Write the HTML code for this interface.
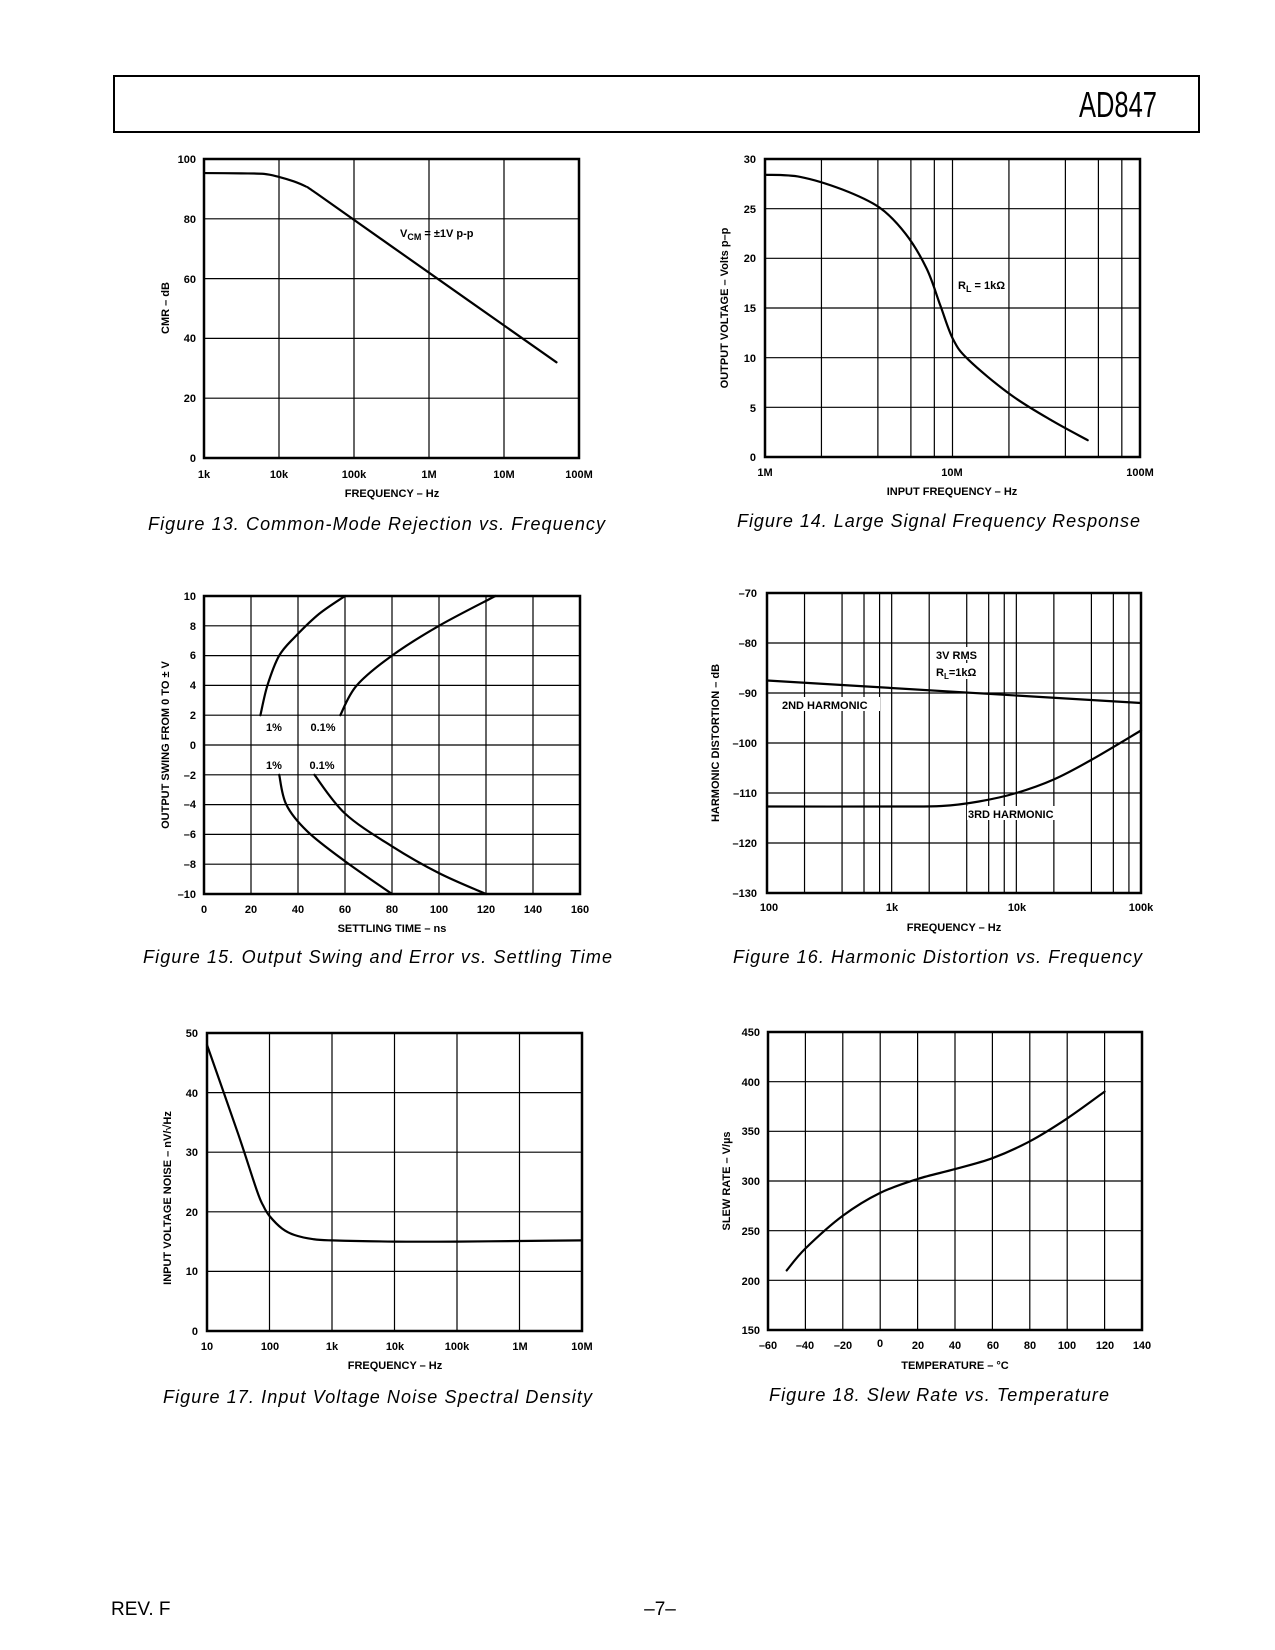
<!DOCTYPE html>
<html><head><meta charset="utf-8"><style>
html,body{margin:0;padding:0;background:#fff}
svg{display:block}
.t{font-family:"Liberation Sans",sans-serif;font-weight:bold;font-size:11px;fill:#000}
.c{font-family:"Liberation Sans",sans-serif;font-style:italic;font-size:18px;fill:#000}
</style></head><body>
<svg id="s" width="1275" height="1650" viewBox="0 0 1275 1650" xmlns="http://www.w3.org/2000/svg">
<rect x="0" y="0" width="1275" height="1650" fill="#fff"/>
<rect x="114" y="76" width="1085" height="56" fill="none" stroke="#000" stroke-width="2"/>
<text x="1079" y="117" font-family="Liberation Sans Narrow,Liberation Sans,sans-serif" font-size="36" textLength="78" lengthAdjust="spacingAndGlyphs">AD847</text>
<g id="grids"></g>
<g id="curves" fill="none" stroke="#000" stroke-width="2.2" stroke-linejoin="round" stroke-linecap="round"></g>

<!-- Fig13 -->
<g class="t" text-anchor="middle">
<text x="204" y="478">1k</text><text x="279" y="478">10k</text><text x="354" y="478">100k</text><text x="429" y="478">1M</text><text x="504" y="478">10M</text><text x="579" y="478">100M</text>
<text x="392" y="497">FREQUENCY – Hz</text>
</g>
<g class="t" text-anchor="end">
<text x="196" y="462">0</text><text x="196" y="402">20</text><text x="196" y="342">40</text><text x="196" y="283">60</text><text x="196" y="223">80</text><text x="196" y="163">100</text>
</g>
<text class="t" transform="translate(169,308) rotate(-90)" text-anchor="middle">CMR – dB</text>
<text class="t" x="400" y="237" font-size="12">V<tspan font-size="9" dy="3">CM</tspan><tspan dy="-3"> = ±1V p-p</tspan></text>
<text class="c" x="148" y="530" textLength="457" lengthAdjust="spacing">Figure 13.  Common-Mode Rejection vs. Frequency</text>

<!-- Fig14 -->
<g class="t" text-anchor="middle">
<text x="765" y="476">1M</text><text x="952" y="476">10M</text><text x="1140" y="476">100M</text>
<text x="952" y="495">INPUT FREQUENCY – Hz</text>
</g>
<g class="t" text-anchor="end">
<text x="756" y="461">0</text><text x="756" y="412">5</text><text x="756" y="362">10</text><text x="756" y="312">15</text><text x="756" y="262">20</text><text x="756" y="213">25</text><text x="756" y="163">30</text>
</g>
<text class="t" transform="translate(728,308) rotate(-90)" text-anchor="middle">OUTPUT VOLTAGE – Volts p–p</text>
<text class="t" x="958" y="289" font-size="12">R<tspan font-size="9" dy="3">L</tspan><tspan dy="-3"> = 1kΩ</tspan></text>
<text class="c" x="737" y="527" textLength="403" lengthAdjust="spacing">Figure 14.  Large Signal Frequency Response</text>

<!-- Fig15 -->
<g class="t" text-anchor="middle">
<text x="204" y="913">0</text><text x="251" y="913">20</text><text x="298" y="913">40</text><text x="345" y="913">60</text><text x="392" y="913">80</text><text x="439" y="913">100</text><text x="486" y="913">120</text><text x="533" y="913">140</text><text x="580" y="913">160</text>
<text x="392" y="932">SETTLING TIME – ns</text>
</g>
<g class="t" text-anchor="end">
<text x="196" y="898">–10</text><text x="196" y="868">–8</text><text x="196" y="838">–6</text><text x="196" y="808">–4</text><text x="196" y="779">–2</text><text x="196" y="749">0</text><text x="196" y="719">2</text><text x="196" y="689">4</text><text x="196" y="659">6</text><text x="196" y="630">8</text><text x="196" y="600">10</text>
</g>
<text class="t" transform="translate(169,745) rotate(-90)" text-anchor="middle">OUTPUT SWING FROM 0 TO ± V</text>
<g class="t" text-anchor="middle">
<rect x="262" y="719" width="22" height="14" fill="#fff"/><text x="274" y="731">1%</text>
<rect x="307" y="719" width="32" height="14" fill="#fff"/><text x="323" y="731">0.1%</text>
<rect x="262" y="758" width="22" height="14" fill="#fff"/><text x="274" y="769">1%</text>
<rect x="306" y="758" width="32" height="14" fill="#fff"/><text x="322" y="769">0.1%</text>
</g>
<text class="c" x="143" y="963" textLength="469" lengthAdjust="spacing">Figure 15.  Output Swing and Error vs. Settling Time</text>

<!-- Fig16 -->
<g class="t" text-anchor="middle">
<text x="769" y="911">100</text><text x="892" y="911">1k</text><text x="1017" y="911">10k</text><text x="1141" y="911">100k</text>
<text x="954" y="931">FREQUENCY – Hz</text>
</g>
<g class="t" text-anchor="end">
<text x="757" y="597">–70</text><text x="757" y="647">–80</text><text x="757" y="697">–90</text><text x="757" y="747">–100</text><text x="757" y="797">–110</text><text x="757" y="847">–120</text><text x="757" y="897">–130</text>
</g>
<text class="t" transform="translate(719,743) rotate(-90)" text-anchor="middle">HARMONIC DISTORTION – dB</text>
<g class="t">
<rect x="935" y="647" width="52" height="13" fill="#fff"/><text x="936" y="659">3V RMS</text>
<rect x="935" y="663" width="52" height="16" fill="#fff"/><text x="936" y="676">R<tspan font-size="8" dy="3">L</tspan><tspan dy="-3">=1kΩ</tspan></text>
<rect x="781" y="697" width="99" height="14" fill="#fff"/><text x="782" y="709">2ND HARMONIC</text>
<rect x="967" y="806" width="99" height="14" fill="#fff"/><text x="968" y="818">3RD HARMONIC</text>
</g>
<text class="c" x="733" y="963" textLength="409" lengthAdjust="spacing">Figure 16.  Harmonic Distortion vs. Frequency</text>

<!-- Fig17 -->
<g class="t" text-anchor="middle">
<text x="207" y="1350">10</text><text x="270" y="1350">100</text><text x="332" y="1350">1k</text><text x="395" y="1350">10k</text><text x="457" y="1350">100k</text><text x="520" y="1350">1M</text><text x="582" y="1350">10M</text>
<text x="395" y="1369">FREQUENCY – Hz</text>
</g>
<g class="t" text-anchor="end">
<text x="198" y="1335">0</text><text x="198" y="1275">10</text><text x="198" y="1216">20</text><text x="198" y="1156">30</text><text x="198" y="1097">40</text><text x="198" y="1037">50</text>
</g>
<text class="t" transform="translate(171,1198) rotate(-90)" text-anchor="middle">INPUT VOLTAGE NOISE – nV/√Hz</text>
<text class="c" x="163" y="1403" textLength="429" lengthAdjust="spacing">Figure 17.  Input Voltage Noise Spectral Density</text>

<!-- Fig18 -->
<g class="t" text-anchor="middle">
<text x="768" y="1349">–60</text><text x="805" y="1349">–40</text><text x="843" y="1349">–20</text><text x="880" y="1347">0</text><text x="918" y="1349">20</text><text x="955" y="1349">40</text><text x="993" y="1349">60</text><text x="1030" y="1349">80</text><text x="1067" y="1349">100</text><text x="1105" y="1349">120</text><text x="1142" y="1349">140</text>
<text x="955" y="1369">TEMPERATURE – °C</text>
</g>
<g class="t" text-anchor="end">
<text x="760" y="1334">150</text><text x="760" y="1285">200</text><text x="760" y="1235">250</text><text x="760" y="1185">300</text><text x="760" y="1135">350</text><text x="760" y="1086">400</text><text x="760" y="1036">450</text>
</g>
<text class="t" transform="translate(730,1181) rotate(-90)" text-anchor="middle">SLEW RATE – V/µs</text>
<text class="c" x="769" y="1401" textLength="340" lengthAdjust="spacing">Figure 18.  Slew Rate vs. Temperature</text>

<text x="111" y="1615" font-family="Liberation Sans,sans-serif" font-size="19">REV. F</text>
<text x="660" y="1615" font-family="Liberation Sans,sans-serif" font-size="19" text-anchor="middle">–7–</text>
</svg>
<script>
const NS="http://www.w3.org/2000/svg";
const G=document.getElementById('grids'),C=document.getElementById('curves');
function el(p,tag,a){const e=document.createElementNS(NS,tag);for(const k in a)e.setAttribute(k,a[k]);p.appendChild(e);return e;}
function line(x1,y1,x2,y2,w){el(G,'line',{x1,y1,x2,y2,stroke:'#000','stroke-width':w||1.2});}
function frame(L,T,R,B,xs,ys){xs.forEach(x=>line(x,T,x,B));ys.forEach(y=>line(L,y,R,y));el(G,'rect',{x:L,y:T,width:R-L,height:B-T,fill:'none',stroke:'#000','stroke-width':2.5});}
function path(pts){let d='M'+pts.map(p=>p[0].toFixed(1)+','+p[1].toFixed(1)).join(' L');el(C,'path',{d});}
function smooth(pts){
 let d='M'+pts[0][0]+','+pts[0][1];
 for(let i=0;i<pts.length-1;i++){const p0=pts[i-1]||pts[i],p1=pts[i],p2=pts[i+1],p3=pts[i+2]||p2;
 const c1=[p1[0]+(p2[0]-p0[0])/6,p1[1]+(p2[1]-p0[1])/6],c2=[p2[0]-(p3[0]-p1[0])/6,p2[1]-(p3[1]-p1[1])/6];
 d+=` C${c1[0].toFixed(1)},${c1[1].toFixed(1)} ${c2[0].toFixed(1)},${c2[1].toFixed(1)} ${p2[0].toFixed(1)},${p2[1].toFixed(1)}`;}
 el(C,'path',{d});}
const lg=Math.log10;
function range(a,b,s){const r=[];for(let v=a;v<=b+1e-9;v+=s)r.push(v);return r;}
function logGrid(L,dec,n,minor){const r=[];for(let d=0;d<n;d++){if(minor){[1,2,4,6,8].forEach(k=>r.push(L+dec*(d+lg(k))));}else r.push(L+dec*d);}r.push(L+dec*n);return r;}
// Fig13
{const L=204,R=579,T=159,B=458;frame(L,T,R,B,logGrid(L,75,5,false),range(0,100,20).map(v=>B-v/100*(B-T)));
 const X=f=>L+75*(f-3),Y=v=>B-v/100*(B-T);
 smooth([[3,95.3],[3.5,95.2],[3.8,95],[4,94],[4.2,92.5],[4.35,90.9],[4.5,88.5],[5.5,70.8],[7.7,32]].map(p=>[X(p[0]),Y(p[1])]));}
// Fig14
{const L=765,R=1140,T=159,B=457;frame(L,T,R,B,logGrid(L,187.5,2,true),range(0,30,5).map(v=>B-v/30*(B-T)));
 const pts=[[727,166],[760,168],[800,180],[835,197],[860,222],[880,255],[893,290],[905,322],[920,342],[960,375],[1000,400],[1033,418]].map(p=>[p[0]*1.053,p[1]*1.053]);smooth(pts);}
// Fig15
{const L=204,R=580,T=596,B=894;frame(L,T,R,B,range(0,160,20).map(t=>L+t/160*(R-L)),range(-10,10,2).map(v=>T+(10-v)/20*(B-T)));
 const X=t=>L+t/160*(R-L),Y=v=>T+(10-v)/20*(B-T);
 [[[24,2],[27,4],[32,6],[39,7.3],[49,8.8],[60,10]],[[58,2],[65,4],[80,6],[100,8],[124,10]],[[32,-2],[35,-4],[44,-5.8],[60,-7.8],[80,-10]],[[47,-2],[60,-4.6],[80,-6.8],[100,-8.6],[120,-10]]].forEach(c=>smooth(c.map(p=>[X(p[0]),Y(p[1])])));}
// Fig16
{const L=767,R=1141,T=593,B=893;frame(L,T,R,B,logGrid(L,124.67,3,true),range(0,6,1).map(i=>T+i*50));
 const X=f=>L+(f-2)*124.67,Y=v=>T+(-70-v)/60*(B-T);
 path([[X(2),Y(-87.5)],[X(5),Y(-92)]]);
 smooth([[2,-112.7],[3,-112.7],[3.4,-112.6],[3.7,-111.7],[4,-110],[4.3,-107.3],[4.6,-103.4],[5,-97.5]].map(p=>[X(p[0]),Y(p[1])]));}
// Fig17
{const L=207,R=582,T=1033,B=1331;frame(L,T,R,B,logGrid(L,62.5,6,false),range(0,50,10).map(v=>B-v/50*(B-T)));
 const X=f=>L+(f-1)*62.5,Y=v=>B-v/50*(B-T);
 smooth([[1,48],[1.5,33],[1.8,23.5],[1.9,21],[2,19.3],[2.2,17.2],[2.4,16.1],[2.7,15.4],[3,15.2],[4,15.0],[5,15.0],[6,15.1],[7,15.2]].map(p=>[X(p[0]),Y(p[1])]));}
// Fig18
{const L=768,R=1142,T=1032,B=1330;frame(L,T,R,B,range(-60,140,20).map(t=>L+(t+60)/200*(R-L)),range(150,450,50).map(v=>B-(v-150)/300*(B-T)));
 const X=t=>L+(t+60)/200*(R-L),Y=v=>B-(v-150)/300*(B-T);
 smooth([[-50,210],[-40,232],[-20,265],[0,288],[20,302],[40,312],[60,323],[80,340],[100,363],[120,390]].map(p=>[X(p[0]),Y(p[1])]));}
</script>
</body></html>
